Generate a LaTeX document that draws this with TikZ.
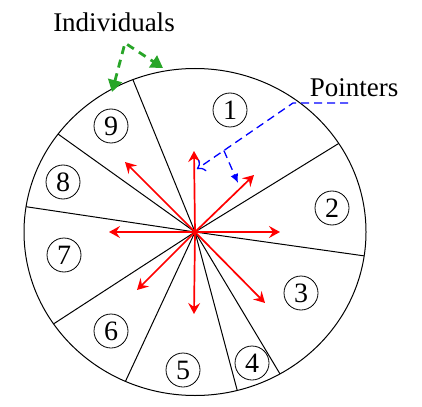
\documentclass[tikz,border=0pt]{standalone}
\usepackage{fontspec}
\setmainfont{Liberation Serif}
\usepackage{xcolor}
\usetikzlibrary{arrows.meta}
\usetikzlibrary{calc}
\definecolor{indgreen}{RGB}{40,165,40}
\tikzset{
  cell/.style={draw, circle, line width=0.4pt, minimum size=17pt, inner sep=0pt,
    font=\fontsize{14}{16}\selectfont},
  wall/.style={line width=0.5pt},
  ptr/.style={red, line width=0.85pt, -{Stealth[length=5.5pt,width=6pt,inset=2pt]}},
  lbl/.style={font=\fontsize{13.5}{16}\selectfont, anchor=base, inner sep=0pt},
  pdash/.style={blue, line width=0.65pt, dash pattern=on 4pt off 2.5pt},
  gdash/.style={indgreen, line width=1.4pt, dash pattern=on 4pt off 3pt},
}

\begin{document}
\begin{tikzpicture}[x=0.5pt,y=-0.5pt]
\useasboundingbox (0,0) rectangle (422,406);
\coordinate (o) at (195,232);

% population ring and sector walls
\draw[wall] (o) ellipse [x radius=85.5pt, y radius=81.75pt];
\foreach \a in {-111.3,-32.8,8.4,60.2,75.7,114,145.8,-171.1,-143.2}
  \draw[wall] (o) -- ++(\a:171 and 163.5);

% individuals
\node[cell] (c1) at (230,110) {1};
\node[cell] (c2) at (332,208) {2};
\node[cell] (c3) at (301,293) {3};
\node[cell] (c4) at (252,363) {4};
\node[cell] (c5) at (183,370) {5};
\node[cell] (c6) at (111,331) {6};
\node[cell] (c7) at (64,255) {7};
\node[cell] (c8) at (63,182) {8};
\node[cell] (c9) at (111,126) {9};

% pointers
\coordinate (pu) at (194,151);
\coordinate (pur) at (254,175);
\coordinate (pr) at (280,232);
\coordinate (pdr) at (265,303);
\coordinate (pd) at (194,314);
\coordinate (pdl) at (137,290);
\coordinate (pl) at (109,232);
\coordinate (pul) at (125,162);
\foreach \n in {pu,pur,pr,pdr,pd,pdl,pl,pul}
  \draw[ptr] (o) -- (\n);

% labels
\node[lbl] (ind) at (114,32) {Individuals};
\node[lbl] (ptrs) at (354,97) {Pointers};

\coordinate (g) at (125,43);
\coordinate (g9) at (112,92);
\coordinate (g1) at (163,68);
\draw[gdash, {Triangle[length=6pt,width=7pt]}-{Triangle[length=6pt,width=7pt]}] (g9) -- (g) -- (g1);

\coordinate (b0) at (348,103);
\coordinate (b1) at (293,103);
\coordinate (bu) at (197,169);
\coordinate (bur) at (238,183);
\draw[pdash, -{To[length=3.5pt,width=7pt]}] (b0) -- (b1) -- (bu);
\draw[pdash, -{Latex[length=4.5pt,width=4pt]}] ($(b1)!0.72!(bu)$) -- (bur);
\end{tikzpicture}
\end{document}
